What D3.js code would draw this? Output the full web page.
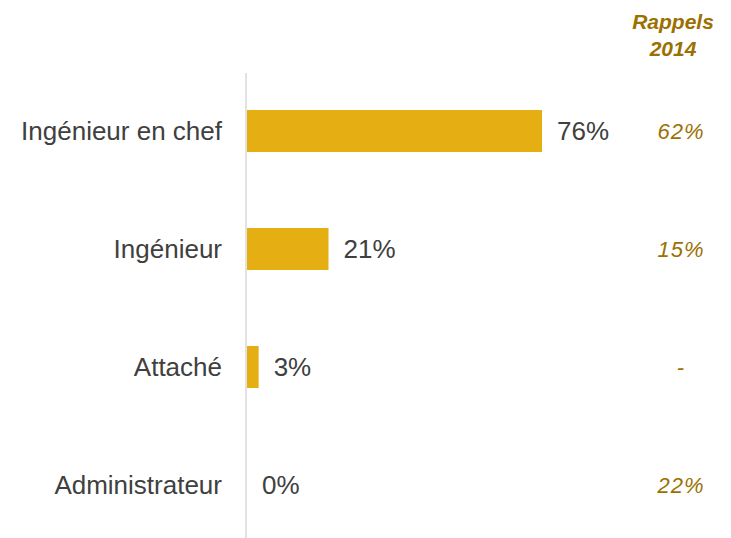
<!DOCTYPE html>
<html>
<head>
<meta charset="utf-8">
<script src="https://cdn.jsdelivr.net/npm/d3@7"></script>
<style>
  body { margin: 0; background: #fff; }
  text { font-family: "Liberation Sans", Arial, sans-serif; }
</style>
</head>
<body>
<div id="chart"></div>
<script>
// data
var categories = ["Ingénieur en chef", "Ingénieur", "Attaché", "Administrateur"];
var values = [76, 21, 3, 0];
var rappels = ["62%", "15%", "-", "22%"];
var rappelsTitle = ["Rappels", "2014"];

var width = 731, height = 538;
var gold = "#E5AF14", brown = "#9C7000";

var svg = d3.select("#chart").append("svg")
    .attr("width", width)
    .attr("height", height);

var x = d3.scaleLinear()   // 1% ~ 3.88px
    .domain([0, 76])
    .range([247, 542]);

var y = d3.scaleBand()
    .domain(categories)
    .range([72, 544])
    .paddingInner(0.644)
    .paddingOuter(0.322);

// axis line
svg.append("line")
    .attr("x1", 246).attr("x2", 246)
    .attr("y1", 73).attr("y2", 538)
    .attr("stroke", "#d9d9d9")
    .attr("stroke-width", 1.5);

// bars
svg.selectAll(".bar")
    .data(values)
    .enter().append("rect")
    .attr("class", "bar")
    .attr("x", x(0))
    .attr("y", function (d, i) { return y(categories[i]); })
    .attr("width", function (d) { return x(d) - x(0); })
    .attr("height", y.bandwidth())
    .attr("fill", gold);

// category labels
svg.selectAll(".cat")
    .data(categories)
    .enter().append("text")
    .attr("class", "cat")
    .attr("x", 222)
    .attr("y", function (d) { return y(d) + y.bandwidth() / 2; })
    .attr("dy", "0.35em")
    .attr("text-anchor", "end")
    .attr("font-size", 26)
    .attr("fill", "#404040")
    .text(function (d) { return d; });

// value labels
svg.selectAll(".val")
    .data(values)
    .enter().append("text")
    .attr("class", "val")
    .attr("x", function (d) { return x(d) + 15; })
    .attr("y", function (d, i) { return y(categories[i]) + y.bandwidth() / 2; })
    .attr("dy", "0.35em")
    .attr("font-size", 26)
    .attr("fill", "#404040")
    .text(function (d) { return d + "%"; });

// rappels column
svg.selectAll(".title")
    .data(rappelsTitle)
    .enter().append("text")
    .attr("class", "title")
    .attr("x", 673)
    .attr("y", function (d, i) { return 29 + i * 27; })
    .attr("text-anchor", "middle")
    .attr("font-size", 21)
    .attr("font-weight", "bold")
    .attr("font-style", "italic")
    .attr("fill", brown)
    .text(function (d) { return d; });

svg.selectAll(".rap")
    .data(rappels)
    .enter().append("text")
    .attr("class", "rap")
    .attr("x", 681)
    .attr("y", function (d, i) { return y(categories[i]) + y.bandwidth() / 2; })
    .attr("dy", "0.35em")
    .attr("text-anchor", "middle")
    .attr("font-size", 22)
    .attr("letter-spacing", 1)
    .attr("font-style", "italic")
    .attr("fill", brown)
    .text(function (d) { return d; });
</script>
</body>
</html>
